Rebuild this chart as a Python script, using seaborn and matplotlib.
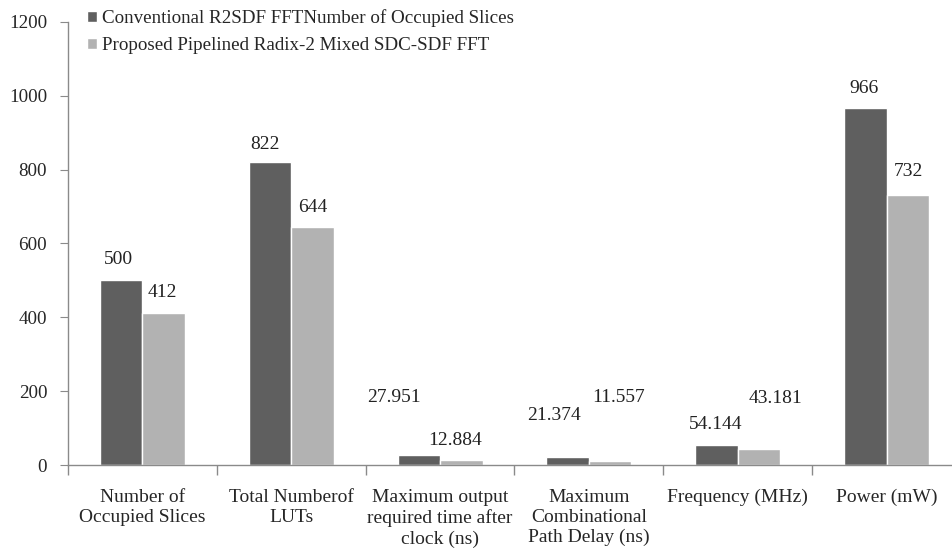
import pandas as pd
import seaborn as sns
import matplotlib.pyplot as plt

categories = ["Number of\nOccupied Slices", "Total Numberof\nLUTs",
              "Maximum output\nrequired time after\nclock (ns)",
              "Maximum\nCombinational\nPath Delay (ns)",
              "Frequency (MHz)", "Power (mW)"]
series = ["Conventional R2SDF FFTNumber of Occupied Slices",
          "Proposed Pipelined Radix-2 Mixed SDC-SDF FFT"]
conventional = [500, 822, 27.951, 21.374, 54.144, 966]
proposed = [412, 644, 12.884, 11.557, 43.181, 732]
conv_text = ["500", "822", "27.951", "21.374", "54.144", "966"]
prop_text = ["412", "644", "12.884", "11.557", "43.181", "732"]

# label offsets in pixels from the bar top (dx, dy), as placed in the original
conv_off = [(-3, 21), (-5, 17), (-25, 57), (-14, 42), (-1, 21), (-1, 20)]
prop_off = [(-1, 20), (0, 20), (-6, 20), (8, 63), (17, 51), (1, 23)]

df = pd.DataFrame({
    "category": categories * 2,
    "value": conventional + proposed,
    "series": [series[0]] * 6 + [series[1]] * 6,
})

sns.set_style("white")
plt.rcParams["font.family"] = ["Liberation Serif", "DejaVu Serif"]

fig = plt.figure(figsize=(9.52, 5.56), dpi=100)
ax = fig.add_axes([68 / 952, 1 - 465 / 556, 893 / 952, 443 / 556])

sns.barplot(data=df, x="category", y="value", hue="series",
            palette=["#5f5f5f", "#b2b2b2"], width=0.57, saturation=1,
            ax=ax, legend=True)

for cont, texts, offs in zip(ax.containers, [conv_text, prop_text], [conv_off, prop_off]):
    for bar, t, (dx, dy) in zip(cont, texts, offs):
        ax.annotate(t, (bar.get_x() + bar.get_width() / 2, bar.get_height()),
                    xytext=(dx, dy), textcoords="offset pixels",
                    ha="center", va="center", fontsize=14, color="#222222")

ax.set_ylim(0, 1200)
ax.set_yticks(range(0, 1201, 200))
ax.set_xlim(-0.5, 5.5)
ax.set_xlabel("")
ax.set_ylabel("")

ax.set_xticks(range(6))
ax.set_xticklabels(categories, fontsize=14, linespacing=1.25)
ax.tick_params(axis="x", length=0, pad=17)
ax.set_xticks([i - 0.5 for i in range(7)], minor=True)
ax.tick_params(axis="x", which="minor", length=7, direction="out", color="#8a8a8a", width=1)
ax.tick_params(axis="y", length=6, direction="out", color="#8a8a8a", labelsize=13.7, pad=9)
ax.yaxis.set_ticks_position("left")
ax.xaxis.set_ticks_position("bottom")

for s in ["top", "right"]:
    ax.spines[s].set_visible(False)
for s in ["left", "bottom"]:
    ax.spines[s].set_color("#8a8a8a")
    ax.spines[s].set_linewidth(1)

ax.legend(loc="upper left", bbox_to_anchor=(87 / 952, 1 - 9 / 556),
          bbox_transform=fig.transFigure, frameon=False, fontsize=13.7,
          handlelength=0.5, handleheight=0.5, handletextpad=0.3,
          labelspacing=0.55, borderaxespad=0, borderpad=0)

fig.savefig("out.png", dpi=100)
